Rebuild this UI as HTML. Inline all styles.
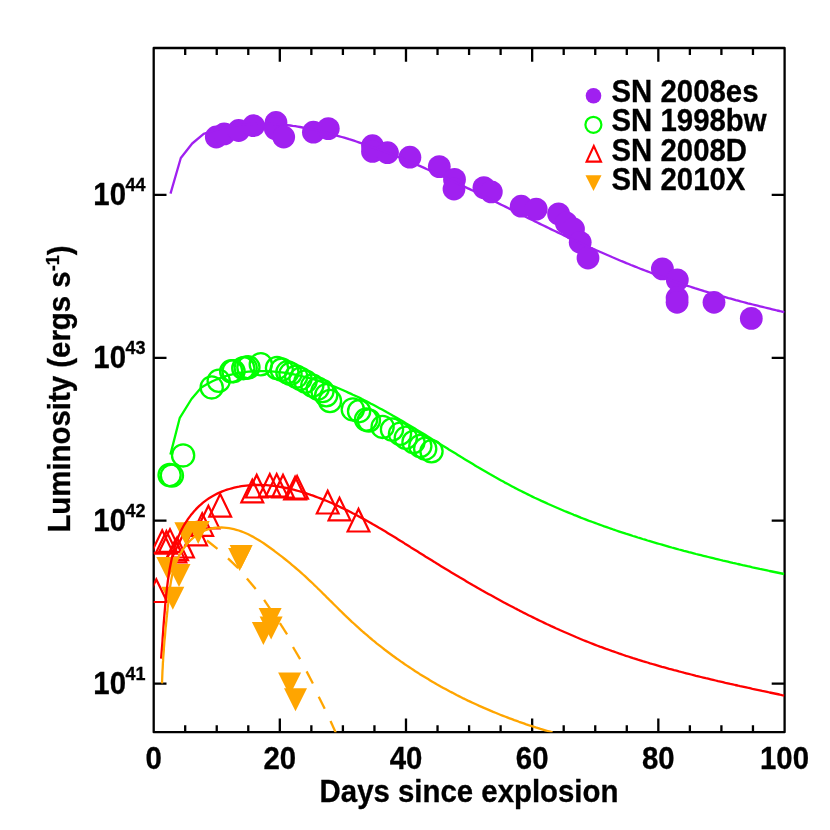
<!DOCTYPE html>
<html><head><meta charset="utf-8"><style>html,body{margin:0;padding:0;background:#fff}svg{display:block;will-change:transform}</style></head><body><svg width="830" height="830" viewBox="0 0 830 830">
<defs><clipPath id="cp"><rect x="153.7" y="48.0" width="630.9" height="684.2"/></clipPath></defs>
<rect width="830" height="830" fill="#fff"/>
<g stroke="#000" stroke-width="2.3" fill="none" stroke-linejoin="round">
<rect x="153.7" y="48.0" width="630.9" height="684.2"/>
<path d="M185.19 732.2V725.3M185.19 48.0V54.9"/>
<path d="M216.74 732.2V725.3M216.74 48.0V54.9"/>
<path d="M248.28 732.2V725.3M248.28 48.0V54.9"/>
<path d="M279.82 732.2V718.5M279.82 48.0V61.7"/>
<path d="M311.36 732.2V725.3M311.36 48.0V54.9"/>
<path d="M342.90 732.2V725.3M342.90 48.0V54.9"/>
<path d="M374.45 732.2V725.3M374.45 48.0V54.9"/>
<path d="M405.99 732.2V718.5M405.99 48.0V61.7"/>
<path d="M437.53 732.2V725.3M437.53 48.0V54.9"/>
<path d="M469.08 732.2V725.3M469.08 48.0V54.9"/>
<path d="M500.62 732.2V725.3M500.62 48.0V54.9"/>
<path d="M532.16 732.2V718.5M532.16 48.0V61.7"/>
<path d="M563.70 732.2V725.3M563.70 48.0V54.9"/>
<path d="M595.25 732.2V725.3M595.25 48.0V54.9"/>
<path d="M626.79 732.2V725.3M626.79 48.0V54.9"/>
<path d="M658.33 732.2V718.5M658.33 48.0V61.7"/>
<path d="M689.87 732.2V725.3M689.87 48.0V54.9"/>
<path d="M721.41 732.2V725.3M721.41 48.0V54.9"/>
<path d="M752.96 732.2V725.3M752.96 48.0V54.9"/>
<path d="M153.7 194.9H166.5M784.5 194.9H771.7"/>
<path d="M153.7 357.8H166.5M784.5 357.8H771.7"/>
<path d="M153.7 520.7H166.5M784.5 520.7H771.7"/>
<path d="M153.7 683.6H166.5M784.5 683.6H771.7"/>
</g>
<g clip-path="url(#cp)">
<g fill="#a020f0"><circle cx="216.3" cy="137.0" r="11.4"/><circle cx="224.2" cy="133.9" r="11.4"/><circle cx="238.7" cy="130.5" r="11.4"/><circle cx="253.6" cy="125.7" r="11.4"/><circle cx="276.0" cy="122.5" r="11.4"/><circle cx="275.3" cy="128.6" r="11.4"/><circle cx="283.7" cy="137.0" r="11.4"/><circle cx="313.4" cy="132.2" r="11.4"/><circle cx="328.3" cy="128.6" r="11.4"/><circle cx="372.5" cy="145.7" r="11.4"/><circle cx="372.5" cy="151.4" r="11.4"/><circle cx="387.5" cy="152.7" r="11.4"/><circle cx="409.9" cy="157.2" r="11.4"/><circle cx="439.3" cy="166.6" r="11.4"/><circle cx="454.5" cy="179.4" r="11.4"/><circle cx="454.0" cy="189.0" r="11.4"/><circle cx="483.9" cy="187.6" r="11.4"/><circle cx="491.3" cy="191.9" r="11.4"/><circle cx="521.2" cy="206.2" r="11.4"/><circle cx="536.2" cy="209.1" r="11.4"/><circle cx="558.6" cy="213.9" r="11.4"/><circle cx="566.3" cy="223.0" r="11.4"/><circle cx="573.5" cy="229.0" r="11.4"/><circle cx="580.2" cy="242.3" r="11.4"/><circle cx="588.0" cy="258.0" r="11.4"/><circle cx="662.4" cy="268.9" r="11.4"/><circle cx="677.3" cy="279.9" r="11.4"/><circle cx="677.1" cy="298.0" r="11.4"/><circle cx="677.1" cy="302.3" r="11.4"/><circle cx="714.0" cy="302.3" r="11.4"/><circle cx="751.3" cy="318.4" r="11.4"/></g>
<g fill="none" stroke="#00ff00" stroke-width="2.3"><circle cx="169.6" cy="475.0" r="11.1"/><circle cx="171.9" cy="475.6" r="11.1"/><circle cx="183.1" cy="455.4" r="11.1"/><circle cx="211.7" cy="387.4" r="11.1"/><circle cx="218.7" cy="380.8" r="11.1"/><circle cx="231.2" cy="371.3" r="11.1"/><circle cx="233.5" cy="371.2" r="11.1"/><circle cx="243.3" cy="368.2" r="11.1"/><circle cx="245.7" cy="367.8" r="11.1"/><circle cx="248.4" cy="367.3" r="11.1"/><circle cx="260.8" cy="364.3" r="11.1"/><circle cx="277.0" cy="368.0" r="11.1"/><circle cx="281.7" cy="369.6" r="11.1"/><circle cx="287.4" cy="372.3" r="11.1"/><circle cx="290.5" cy="373.8" r="11.1"/><circle cx="296.2" cy="376.6" r="11.1"/><circle cx="300.5" cy="378.8" r="11.1"/><circle cx="305.5" cy="381.5" r="11.1"/><circle cx="312.3" cy="385.6" r="11.1"/><circle cx="317.7" cy="388.6" r="11.1"/><circle cx="322.5" cy="391.1" r="11.1"/><circle cx="326.2" cy="395.3" r="11.1"/><circle cx="330.0" cy="401.0" r="11.1"/><circle cx="352.8" cy="409.4" r="11.1"/><circle cx="359.1" cy="411.2" r="11.1"/><circle cx="366.1" cy="419.5" r="11.1"/><circle cx="368.9" cy="420.5" r="11.1"/><circle cx="382.6" cy="426.9" r="11.1"/><circle cx="392.0" cy="429.5" r="11.1"/><circle cx="400.0" cy="433.8" r="11.1"/><circle cx="405.8" cy="437.8" r="11.1"/><circle cx="413.5" cy="442.0" r="11.1"/><circle cx="420.3" cy="446.0" r="11.1"/><circle cx="425.2" cy="448.7" r="11.1"/><circle cx="431.5" cy="451.3" r="11.1"/></g>
<g fill="none" stroke="#ff0000" stroke-width="2.2" stroke-miterlimit="10"><path d="M145.4 602.0L156.3 579.4L167.2 602.0Z"/><path d="M151.3 552.8L162.2 530.2L173.1 552.8Z"/><path d="M155.5 553.7L166.4 531.1L177.3 553.7Z"/><path d="M159.1 551.8L170.0 529.2L180.9 551.8Z"/><path d="M164.5 562.3L175.4 539.7L186.3 562.3Z"/><path d="M166.2 560.2L177.1 537.6L188.0 560.2Z"/><path d="M172.1 557.5L183.0 534.9L193.9 557.5Z"/><path d="M185.2 545.3L196.1 522.7L207.0 545.3Z"/><path d="M191.3 535.8L202.2 513.2L213.1 535.8Z"/><path d="M197.5 528.3L208.4 505.7L219.3 528.3Z"/><path d="M209.3 516.6L220.2 494.0L231.1 516.6Z"/><path d="M241.4 502.3L252.3 479.7L263.2 502.3Z"/><path d="M245.8 497.5L256.7 474.9L267.6 497.5Z"/><path d="M258.9 496.6L269.8 474.0L280.7 496.6Z"/><path d="M265.8 496.6L276.7 474.0L287.6 496.6Z"/><path d="M272.1 497.5L283.0 474.9L293.9 497.5Z"/><path d="M284.2 499.3L295.1 476.7L306.0 499.3Z"/><path d="M286.2 498.7L297.1 476.1L308.0 498.7Z"/><path d="M316.8 513.5L327.7 490.9L338.6 513.5Z"/><path d="M328.6 520.3L339.5 497.7L350.4 520.3Z"/><path d="M347.6 531.5L358.5 508.9L369.4 531.5Z"/></g>
<g fill="#ffa500"><path d="M156.3 557.1L167.8 580.1L179.3 557.1Z"/><path d="M167.5 564.1L179.0 587.1L190.5 564.1Z"/><path d="M161.3 586.8L172.8 609.8L184.3 586.8Z"/><path d="M174.4 522.3L185.9 545.3L197.4 522.3Z"/><path d="M186.7 521.0L198.2 544.0L209.7 521.0Z"/><path d="M228.1 548.0L239.6 571.0L251.1 548.0Z"/><path d="M229.7 545.0L241.2 568.0L252.7 545.0Z"/><path d="M258.6 608.1L270.1 631.1L281.6 608.1Z"/><path d="M259.6 616.5L271.1 639.5L282.6 616.5Z"/><path d="M251.9 622.1L263.4 645.1L274.9 622.1Z"/><path d="M278.1 672.4L289.6 695.4L301.1 672.4Z"/><path d="M284.0 688.3L295.5 711.3L307.0 688.3Z"/></g>
<polyline fill="none" stroke="#a020f0" stroke-width="2.3" stroke-linejoin="round" points="170.5,193.6 180.8,158.0 192.2,143.5 203.7,133.9 206.1,133.0 208.6,132.1 211.0,131.3 213.5,130.6 215.9,129.8 218.4,129.2 220.8,128.5 223.3,127.9 225.8,127.4 228.2,126.9 230.7,126.4 233.2,126.0 235.6,125.6 238.1,125.2 240.6,124.9 243.1,124.6 245.5,124.4 248.0,124.2 250.5,124.0 253.0,123.9 255.5,123.8 257.9,123.7 260.4,123.6 262.9,123.6 265.4,123.7 267.9,123.7 270.4,123.8 272.8,123.9 275.3,124.1 277.8,124.3 280.3,124.5 282.8,124.7 285.3,124.9 287.7,125.2 290.2,125.5 292.7,125.9 295.2,126.2 297.7,126.6 300.1,127.0 302.6,127.5 305.1,127.9 307.5,128.4 310.0,128.9 312.5,129.4 314.9,129.9 317.4,130.5 319.8,131.1 322.3,131.7 324.7,132.3 327.2,132.9 329.6,133.5 332.1,134.2 334.5,134.9 336.9,135.6 339.4,136.3 341.8,137.0 344.2,137.7 346.6,138.4 349.1,139.2 351.5,139.9 353.9,140.7 356.3,141.5 358.7,142.3 361.1,143.1 363.4,143.9 365.8,144.7 368.2,145.6 370.6,146.4 373.0,147.3 375.3,148.1 377.7,149.0 380.0,149.9 382.4,150.7 384.7,151.6 387.1,152.5 389.4,153.4 391.8,154.4 394.1,155.3 396.4,156.2 398.8,157.2 401.1,158.1 403.4,159.1 405.7,160.0 408.1,161.0 410.4,162.0 412.7,162.9 415.0,163.9 417.3,164.9 419.6,165.9 421.9,166.9 424.2,167.9 426.5,169.0 428.8,170.0 431.1,171.0 433.4,172.0 435.6,173.1 437.9,174.1 440.2,175.2 442.5,176.2 444.8,177.3 447.0,178.3 449.3,179.4 451.6,180.5 453.9,181.5 456.1,182.6 458.4,183.7 460.7,184.8 462.9,185.9 465.2,187.0 467.4,188.1 469.7,189.1 472.0,190.2 474.2,191.3 476.5,192.4 478.7,193.5 481.0,194.7 483.2,195.8 485.5,196.9 487.8,198.0 490.0,199.1 492.3,200.2 494.5,201.3 496.8,202.4 499.0,203.6 501.3,204.7 503.5,205.8 505.8,206.9 508.0,208.0 510.3,209.1 512.5,210.3 514.8,211.4 517.0,212.5 519.3,213.6 521.5,214.7 523.8,215.9 526.0,217.0 528.3,218.1 530.5,219.2 532.8,220.3 535.0,221.4 537.3,222.5 539.5,223.6 541.8,224.7 544.0,225.8 546.3,226.9 548.6,228.0 550.8,229.1 553.1,230.2 555.4,231.3 557.6,232.4 559.9,233.5 562.2,234.5 564.4,235.6 566.7,236.7 569.0,237.8 571.2,238.8 573.5,239.9 575.8,240.9 578.1,242.0 580.4,243.0 582.6,244.1 584.9,245.1 587.2,246.2 589.5,247.2 591.8,248.2 594.1,249.2 596.4,250.3 598.7,251.3 601.0,252.3 603.3,253.3 605.6,254.3 607.9,255.3 610.2,256.3 612.5,257.3 614.8,258.2 617.1,259.2 619.4,260.2 621.7,261.2 624.1,262.1 626.4,263.1 628.7,264.0 631.0,265.0 633.3,265.9 635.7,266.8 638.0,267.8 640.3,268.7 642.7,269.6 645.0,270.5 647.4,271.4 649.7,272.3 652.0,273.2 654.4,274.1 656.7,275.0 659.1,275.8 661.4,276.7 663.8,277.6 666.2,278.4 668.5,279.2 670.9,280.1 673.3,280.9 675.6,281.7 678.0,282.6 680.4,283.4 682.7,284.2 685.1,285.0 687.5,285.8 689.9,286.5 692.3,287.3 694.7,288.1 697.1,288.8 699.5,289.6 701.9,290.3 704.3,291.1 706.7,291.8 709.1,292.5 711.5,293.2 713.9,293.9 716.3,294.6 718.7,295.3 721.1,296.0 723.6,296.7 726.0,297.4 728.4,298.1 730.8,298.7 733.3,299.4 735.7,300.1 738.1,300.7 740.5,301.4 743.0,302.0 745.4,302.6 747.8,303.3 750.3,303.9 752.7,304.5 755.2,305.1 757.6,305.7 760.0,306.3 762.5,306.9 764.9,307.5 767.4,308.1 769.8,308.7 772.3,309.3 774.7,309.9 777.1,310.5 779.6,311.0 782.0,311.6 784.5,312.2"/>
<polyline fill="none" stroke="#00ff00" stroke-width="2.3" stroke-linejoin="round" points="170.4,454.6 179.8,417.8 191.5,399.0 201.3,387.6 203.4,386.2 205.6,384.9 207.9,383.6 210.1,382.5 212.4,381.3 214.7,380.3 217.0,379.3 219.4,378.4 221.7,377.5 224.1,376.7 226.5,375.9 228.9,375.2 231.3,374.6 233.8,374.0 236.2,373.5 238.7,373.0 241.2,372.6 243.7,372.3 246.2,371.9 248.7,371.7 251.2,371.5 253.7,371.3 256.2,371.2 258.7,371.1 261.3,371.1 263.8,371.1 266.3,371.2 268.8,371.3 271.3,371.4 273.9,371.6 276.4,371.8 278.9,372.1 281.4,372.4 283.9,372.7 286.4,373.1 288.8,373.5 291.3,373.9 293.8,374.4 296.2,374.9 298.7,375.4 301.1,376.0 303.5,376.6 305.9,377.2 308.4,377.8 310.8,378.5 313.2,379.2 315.6,379.9 317.9,380.7 320.3,381.5 322.7,382.3 325.1,383.1 327.4,384.0 329.8,384.8 332.1,385.7 334.4,386.6 336.8,387.6 339.1,388.5 341.4,389.5 343.7,390.5 346.0,391.5 348.3,392.6 350.6,393.6 352.9,394.7 355.2,395.7 357.5,396.8 359.7,397.9 362.0,399.1 364.3,400.2 366.5,401.3 368.8,402.5 371.0,403.7 373.2,404.8 375.5,406.0 377.7,407.2 379.9,408.4 382.1,409.6 384.3,410.8 386.5,412.1 388.7,413.3 390.9,414.5 393.1,415.8 395.3,417.0 397.5,418.3 399.7,419.6 401.9,420.8 404.0,422.1 406.2,423.4 408.4,424.7 410.5,426.0 412.7,427.3 414.9,428.6 417.0,429.9 419.2,431.2 421.3,432.5 423.5,433.8 425.6,435.1 427.8,436.4 429.9,437.7 432.1,439.1 434.2,440.4 436.4,441.7 438.5,443.0 440.7,444.4 442.8,445.7 445.0,447.0 447.1,448.3 449.2,449.7 451.4,451.0 453.5,452.3 455.7,453.6 457.8,454.9 460.0,456.2 462.1,457.6 464.3,458.9 466.4,460.2 468.6,461.5 470.7,462.8 472.9,464.1 475.0,465.4 477.2,466.7 479.4,467.9 481.5,469.2 483.7,470.5 485.9,471.8 488.0,473.0 490.2,474.3 492.4,475.5 494.6,476.8 496.8,478.0 498.9,479.2 501.1,480.4 503.3,481.6 505.5,482.9 507.8,484.0 510.0,485.2 512.2,486.4 514.4,487.6 516.6,488.7 518.9,489.9 521.1,491.0 523.3,492.1 525.6,493.3 527.8,494.4 530.1,495.5 532.3,496.6 534.6,497.7 536.9,498.7 539.1,499.8 541.4,500.9 543.7,501.9 546.0,502.9 548.3,504.0 550.6,505.0 552.9,506.0 555.2,507.0 557.5,508.0 559.8,509.0 562.1,510.0 564.4,511.0 566.7,511.9 569.1,512.9 571.4,513.8 573.7,514.8 576.1,515.7 578.4,516.6 580.7,517.6 583.1,518.5 585.4,519.4 587.8,520.3 590.1,521.2 592.5,522.0 594.9,522.9 597.2,523.8 599.6,524.7 602.0,525.5 604.3,526.4 606.7,527.2 609.1,528.0 611.5,528.8 613.8,529.7 616.2,530.5 618.6,531.3 621.0,532.1 623.4,532.9 625.8,533.7 628.2,534.4 630.6,535.2 633.0,536.0 635.4,536.7 637.8,537.5 640.2,538.2 642.6,539.0 645.1,539.7 647.5,540.5 649.9,541.2 652.3,541.9 654.7,542.6 657.1,543.3 659.6,544.0 662.0,544.7 664.4,545.4 666.9,546.1 669.3,546.8 671.7,547.5 674.1,548.1 676.6,548.8 679.0,549.5 681.5,550.1 683.9,550.8 686.3,551.4 688.8,552.1 691.2,552.7 693.7,553.3 696.1,554.0 698.5,554.6 701.0,555.2 703.4,555.8 705.9,556.4 708.3,557.0 710.8,557.6 713.2,558.2 715.7,558.8 718.1,559.4 720.6,560.0 723.0,560.6 725.5,561.1 727.9,561.7 730.4,562.3 732.8,562.9 735.3,563.4 737.7,564.0 740.2,564.5 742.6,565.1 745.1,565.6 747.5,566.2 750.0,566.7 752.4,567.3 754.8,567.8 757.3,568.3 759.7,568.9 762.2,569.4 764.6,569.9 767.1,570.4 769.5,571.0 772.0,571.5 774.4,572.0 776.9,572.5 779.3,573.0 781.7,573.5 784.2,574.0"/>
<polyline fill="none" stroke="#ff0000" stroke-width="2.3" stroke-linejoin="round" points="161.1,658.7 161.3,656.2 161.5,653.7 161.7,651.2 161.9,648.7 162.1,646.2 162.3,643.7 162.5,641.2 162.6,638.7 162.8,636.2 163.0,633.7 163.2,631.2 163.3,628.7 163.5,626.2 163.7,623.7 163.9,621.2 164.1,618.7 164.3,616.2 164.5,613.7 164.7,611.3 164.9,608.8 165.1,606.3 165.3,603.8 165.5,601.3 165.8,598.8 166.0,596.3 166.3,593.8 166.6,591.3 166.9,588.8 167.2,586.3 167.5,583.8 167.8,581.3 168.2,578.8 168.5,576.3 168.9,573.8 169.3,571.2 169.7,568.7 170.2,566.2 170.7,563.7 171.2,561.2 171.7,558.7 172.3,556.2 172.9,553.8 173.5,551.3 174.2,548.8 174.9,546.4 175.7,544.0 176.5,541.6 177.4,539.2 178.3,536.9 179.3,534.6 180.3,532.3 181.4,530.0 182.6,527.8 183.8,525.5 185.1,523.4 186.5,521.3 187.9,519.2 189.4,517.1 190.9,515.1 192.5,513.2 194.1,511.3 195.8,509.4 197.5,507.6 199.3,505.9 201.1,504.3 203.0,502.6 205.0,501.1 207.0,499.6 209.0,498.2 211.1,496.9 213.3,495.7 215.5,494.5 217.7,493.4 220.0,492.4 222.3,491.4 224.6,490.5 227.0,489.7 229.4,489.0 231.8,488.3 234.2,487.7 236.6,487.1 239.0,486.7 241.5,486.2 243.9,485.9 246.4,485.6 248.8,485.3 251.3,485.2 253.8,485.0 256.2,485.0 258.7,485.0 261.2,485.0 263.7,485.1 266.2,485.2 268.6,485.4 271.1,485.6 273.6,485.9 276.1,486.2 278.6,486.6 281.1,487.0 283.6,487.5 286.1,488.0 288.6,488.5 291.0,489.1 293.5,489.7 296.0,490.3 298.4,491.0 300.9,491.7 303.4,492.5 305.8,493.2 308.2,494.0 310.7,494.9 313.1,495.7 315.5,496.6 317.9,497.5 320.3,498.4 322.7,499.4 325.1,500.3 327.5,501.3 329.8,502.3 332.2,503.3 334.5,504.4 336.8,505.4 339.1,506.5 341.4,507.6 343.7,508.7 346.0,509.8 348.2,510.9 350.5,512.0 352.7,513.2 355.0,514.3 357.2,515.5 359.4,516.7 361.6,517.9 363.8,519.1 366.0,520.3 368.2,521.5 370.4,522.7 372.5,524.0 374.7,525.2 376.9,526.5 379.0,527.8 381.2,529.0 383.3,530.3 385.5,531.6 387.6,532.9 389.7,534.2 391.9,535.5 394.0,536.8 396.1,538.1 398.2,539.4 400.3,540.7 402.5,542.0 404.6,543.4 406.7,544.7 408.8,546.0 410.9,547.4 413.0,548.7 415.1,550.0 417.3,551.3 419.4,552.7 421.5,554.0 423.6,555.3 425.7,556.7 427.9,558.0 430.0,559.3 432.1,560.6 434.3,561.9 436.4,563.3 438.5,564.6 440.7,565.9 442.8,567.2 444.9,568.5 447.1,569.8 449.2,571.1 451.4,572.4 453.6,573.7 455.7,575.0 457.9,576.3 460.0,577.6 462.2,578.8 464.4,580.1 466.5,581.4 468.7,582.7 470.9,583.9 473.1,585.2 475.3,586.4 477.4,587.7 479.6,588.9 481.8,590.2 484.0,591.4 486.2,592.7 488.4,593.9 490.6,595.1 492.8,596.3 495.0,597.6 497.2,598.8 499.5,600.0 501.7,601.2 503.9,602.4 506.1,603.6 508.3,604.7 510.6,605.9 512.8,607.1 515.0,608.3 517.3,609.4 519.5,610.6 521.8,611.7 524.0,612.9 526.2,614.0 528.5,615.2 530.8,616.3 533.0,617.4 535.3,618.5 537.5,619.6 539.8,620.7 542.1,621.8 544.3,622.9 546.6,624.0 548.9,625.0 551.2,626.1 553.5,627.1 555.8,628.2 558.1,629.2 560.3,630.3 562.6,631.3 564.9,632.3 567.3,633.3 569.6,634.3 571.9,635.3 574.2,636.3 576.5,637.3 578.8,638.2 581.1,639.2 583.5,640.2 585.8,641.1 588.1,642.0 590.5,643.0 592.8,643.9 595.2,644.8 597.5,645.7 599.8,646.6 602.2,647.4 604.6,648.3 606.9,649.2 609.3,650.0 611.6,650.9 614.0,651.7 616.4,652.5 618.8,653.4 621.1,654.2 623.5,655.0 625.9,655.8 628.3,656.5 630.7,657.3 633.1,658.1 635.5,658.8 637.9,659.6 640.2,660.3 642.6,661.1 645.1,661.8 647.5,662.5 649.9,663.3 652.3,664.0 654.7,664.7 657.1,665.4 659.5,666.1 661.9,666.8 664.4,667.4 666.8,668.1 669.2,668.8 671.6,669.4 674.1,670.1 676.5,670.7 678.9,671.4 681.3,672.0 683.8,672.7 686.2,673.3 688.7,673.9 691.1,674.5 693.5,675.1 696.0,675.8 698.4,676.4 700.9,677.0 703.3,677.6 705.8,678.2 708.2,678.7 710.7,679.3 713.1,679.9 715.6,680.5 718.0,681.1 720.5,681.6 722.9,682.2 725.4,682.8 727.8,683.3 730.3,683.9 732.7,684.4 735.2,685.0 737.6,685.5 740.1,686.1 742.6,686.6 745.0,687.1 747.5,687.7 749.9,688.2 752.4,688.8 754.8,689.3 757.3,689.8 759.8,690.3 762.2,690.9 764.7,691.4 767.1,691.9 769.6,692.5 772.1,693.0 774.5,693.5 777.0,694.0 779.4,694.5 781.9,695.1 784.3,695.6"/>
<polyline fill="none" stroke="#ffa500" stroke-width="2.3" stroke-linejoin="round" points="162.0,683.4 162.1,680.8 162.2,678.2 162.3,675.6 162.4,673.0 162.5,670.5 162.7,667.9 162.8,665.4 162.9,662.9 163.1,660.4 163.2,657.9 163.4,655.4 163.6,652.9 163.8,650.4 163.9,647.9 164.1,645.5 164.3,643.0 164.5,640.5 164.8,638.1 165.0,635.6 165.2,633.2 165.4,630.7 165.6,628.2 165.9,625.8 166.1,623.3 166.4,620.8 166.6,618.4 166.9,615.9 167.1,613.4 167.4,610.9 167.6,608.4 167.9,605.9 168.2,603.4 168.4,600.9 168.7,598.3 169.0,595.8 169.3,593.3 169.6,590.7 169.9,588.2 170.3,585.6 170.7,583.1 171.1,580.5 171.6,578.0 172.1,575.5 172.7,573.0 173.4,570.6 174.1,568.1 174.9,565.7 175.8,563.3 176.8,560.9 177.8,558.5 178.9,556.2 180.2,554.0 181.4,551.8 182.8,549.6 184.3,547.6 185.8,545.5 187.4,543.6 189.1,541.7 190.8,540.0 192.6,538.3 194.5,536.7 196.4,535.2 198.4,533.9 200.5,532.6 202.6,531.5 204.8,530.5 207.0,529.7 209.3,529.0 211.7,528.4 214.1,528.0 216.5,527.7 219.0,527.6 221.4,527.5 223.9,527.6 226.4,527.8 228.9,528.2 231.4,528.6 233.9,529.2 236.3,529.8 238.8,530.5 241.2,531.4 243.5,532.3 245.9,533.3 248.2,534.3 250.5,535.5 252.7,536.6 255.0,537.9 257.2,539.2 259.4,540.5 261.6,541.9 263.7,543.3 265.8,544.8 267.9,546.3 270.0,547.8 272.1,549.3 274.2,550.8 276.2,552.3 278.2,553.8 280.2,555.4 282.2,556.9 284.2,558.5 286.1,560.0 288.1,561.6 290.0,563.2 291.9,564.8 293.8,566.4 295.7,568.0 297.6,569.6 299.4,571.2 301.3,572.9 303.1,574.5 305.0,576.2 306.8,577.9 308.6,579.6 310.5,581.3 312.3,583.0 314.1,584.8 315.9,586.5 317.7,588.3 319.5,590.0 321.3,591.8 323.1,593.6 324.9,595.3 326.6,597.1 328.4,598.9 330.2,600.7 332.0,602.4 333.8,604.2 335.6,606.0 337.4,607.8 339.2,609.6 341.0,611.3 342.8,613.1 344.6,614.9 346.4,616.6 348.3,618.4 350.1,620.1 351.9,621.8 353.8,623.5 355.6,625.2 357.5,626.9 359.4,628.6 361.3,630.3 363.2,632.0 365.1,633.6 367.0,635.2 368.9,636.9 370.8,638.5 372.7,640.1 374.7,641.7 376.6,643.3 378.6,644.8 380.6,646.4 382.5,647.9 384.5,649.5 386.5,651.0 388.5,652.5 390.5,654.0 392.5,655.5 394.6,657.0 396.6,658.5 398.7,659.9 400.7,661.4 402.8,662.8 404.8,664.2 406.9,665.6 409.0,667.0 411.1,668.4 413.2,669.8 415.3,671.2 417.4,672.5 419.5,673.9 421.6,675.2 423.8,676.5 425.9,677.8 428.1,679.1 430.2,680.4 432.4,681.7 434.6,682.9 436.7,684.2 438.9,685.4 441.1,686.7 443.3,687.9 445.5,689.1 447.7,690.3 449.9,691.5 452.2,692.6 454.4,693.8 456.6,695.0 458.9,696.1 461.1,697.2 463.4,698.4 465.7,699.5 467.9,700.6 470.2,701.6 472.5,702.7 474.8,703.8 477.0,704.8 479.3,705.9 481.6,706.9 483.9,707.9 486.3,708.9 488.6,709.9 490.9,710.9 493.2,711.9 495.5,712.8 497.9,713.8 500.2,714.7 502.5,715.6 504.9,716.5 507.2,717.4 509.6,718.3 512.0,719.2 514.3,720.1 516.7,720.9 519.0,721.8 521.4,722.6 523.8,723.4 526.2,724.3 528.5,725.1 530.9,725.8 533.3,726.6 535.7,727.4 538.1,728.1 540.5,728.9 542.9,729.6 545.3,730.3 547.7,731.0 550.1,731.7 552.5,732.4"/>
<g stroke="#ffa500" stroke-width="2.3"><line x1="206.9" y1="540.5" x2="217.5" y2="548.9"/><line x1="228.0" y1="558.3" x2="238.2" y2="568.2"/><line x1="246.9" y1="578.4" x2="255.7" y2="588.9"/><line x1="264.1" y1="599.9" x2="271.5" y2="610.8"/><line x1="279.9" y1="623.2" x2="287.1" y2="634.3"/><line x1="293.0" y1="647.0" x2="300.1" y2="659.1"/><line x1="306.6" y1="671.4" x2="312.9" y2="683.5"/><line x1="318.7" y1="696.7" x2="324.7" y2="708.8"/><line x1="330.5" y1="721.1" x2="335.9" y2="732.9"/></g>
</g>
<g font-family="'Liberation Sans', sans-serif" font-weight="bold" font-size="29.4" fill="#000" stroke="#000" stroke-width="0.3">
<text transform="translate(153.7,769.0) scale(1,1.055)" text-anchor="middle">0</text>
<text transform="translate(279.8,769.0) scale(1,1.055)" text-anchor="middle">20</text>
<text transform="translate(406.0,769.0) scale(1,1.055)" text-anchor="middle">40</text>
<text transform="translate(532.2,769.0) scale(1,1.055)" text-anchor="middle">60</text>
<text transform="translate(658.3,769.0) scale(1,1.055)" text-anchor="middle">80</text>
<text transform="translate(784.5,769.0) scale(1,1.055)" text-anchor="middle">100</text>
<text transform="translate(469.0,801.5) scale(1,1.055)" text-anchor="middle">Days since explosion</text>
<text transform="translate(126.0,205.2) scale(1,1.055)" text-anchor="end">10</text>
<text transform="translate(125.5,191.0) scale(1,1.055)" font-size="18">44</text>
<text transform="translate(126.0,368.1) scale(1,1.055)" text-anchor="end">10</text>
<text transform="translate(125.5,353.9) scale(1,1.055)" font-size="18">43</text>
<text transform="translate(126.0,531.0) scale(1,1.055)" text-anchor="end">10</text>
<text transform="translate(125.5,516.8) scale(1,1.055)" font-size="18">42</text>
<text transform="translate(126.0,693.9) scale(1,1.055)" text-anchor="end">10</text>
<text transform="translate(125.5,679.7) scale(1,1.055)" font-size="18">41</text>
<text transform="translate(70.2,389) rotate(-90) scale(1,1.055)" text-anchor="middle">Luminosity (ergs s<tspan font-size="18.2" dy="-10.5">-1</tspan><tspan dy="10.5">)</tspan></text>
<text transform="translate(611.5,102.3) scale(1,1.055)" text-anchor="start">SN 2008es</text>
<text transform="translate(611.5,131.4) scale(1,1.055)" text-anchor="start">SN 1998bw</text>
<text transform="translate(611.5,160.5) scale(1,1.055)" text-anchor="start">SN 2008D</text>
<text transform="translate(611.5,189.6) scale(1,1.055)" text-anchor="start">SN 2010X</text>
</g>
<circle cx="593.5" cy="95.7" r="7.8" fill="#a020f0"/>
<circle cx="593.4" cy="124.8" r="8" fill="none" stroke="#00ff00" stroke-width="2.2"/>
<path d="M586.6 161.6L593.8 146.0L601 161.6Z" fill="none" stroke="#ff0000" stroke-width="2.1" stroke-miterlimit="10"/>
<path d="M585.5 175.2L593.5 191.1L601.5 175.2Z" fill="#ffa500"/>
</svg></body></html>
